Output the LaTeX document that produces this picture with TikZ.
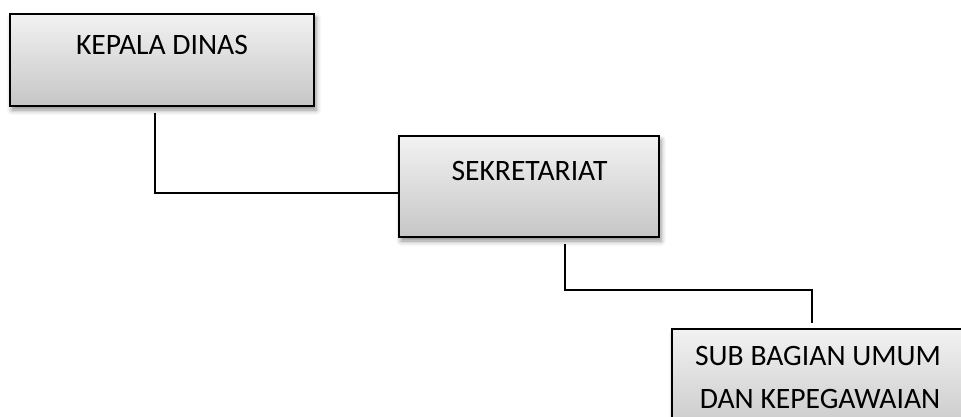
\documentclass[tikz,border=0pt]{standalone}
\usepackage{fontspec}
\setmainfont{Carlito}
\usetikzlibrary{shadows.blur,calc}
\definecolor{boxtop}{RGB}{242,242,242}
\definecolor{boxbot}{RGB}{198,198,198}
\begin{document}
\begin{tikzpicture}[x=1pt,y=-1pt,
  orgbox/.style={draw=black,line width=2pt,rectangle,inner sep=0pt,
    top color=boxtop,bottom color=boxbot,
    blur shadow={shadow xshift=2pt,shadow yshift=-4pt,shadow blur radius=5pt,shadow opacity=45}},
  boxtext/.style={anchor=base,font=\fontsize{29.6}{43}\selectfont,inner sep=0pt,align=center},
  conn/.style={draw=black,line width=2pt}]
\useasboundingbox (0,0) rectangle (961,417);
\clip (0,0) rectangle (961,417);
\coordinate (a1) at (155,113);
\coordinate (a2) at (155,193);
\coordinate (b1) at (565,244);
\coordinate (b2) at (565,290);
\coordinate (b3) at (812,290);
\coordinate (b4) at (812,323);
\node[orgbox,minimum width=304pt,minimum height=92pt] (kepala) at (162,60) {};
\node[orgbox,minimum width=260pt,minimum height=101pt] (sekr) at (529,186.5) {};
\node[orgbox,minimum width=294pt,minimum height=110pt] (sub) at (819,384) {};
\draw[conn] (a1) -- (a2) -- (a2 -| sekr.west);
\draw[conn] (b1) -- (b2) -- (b3) -- (b4);
\node[boxtext] (t1) at (162,55) {KEPALA DINAS};
\node[boxtext] (t2) at (529.5,180) {SEKRETARIAT};
\node[boxtext] (t3) at (818,365) {SUB BAGIAN UMUM};
\node[boxtext] (t4) at (820,408) {DAN KEPEGAWAIAN};
\end{tikzpicture}
\end{document}
